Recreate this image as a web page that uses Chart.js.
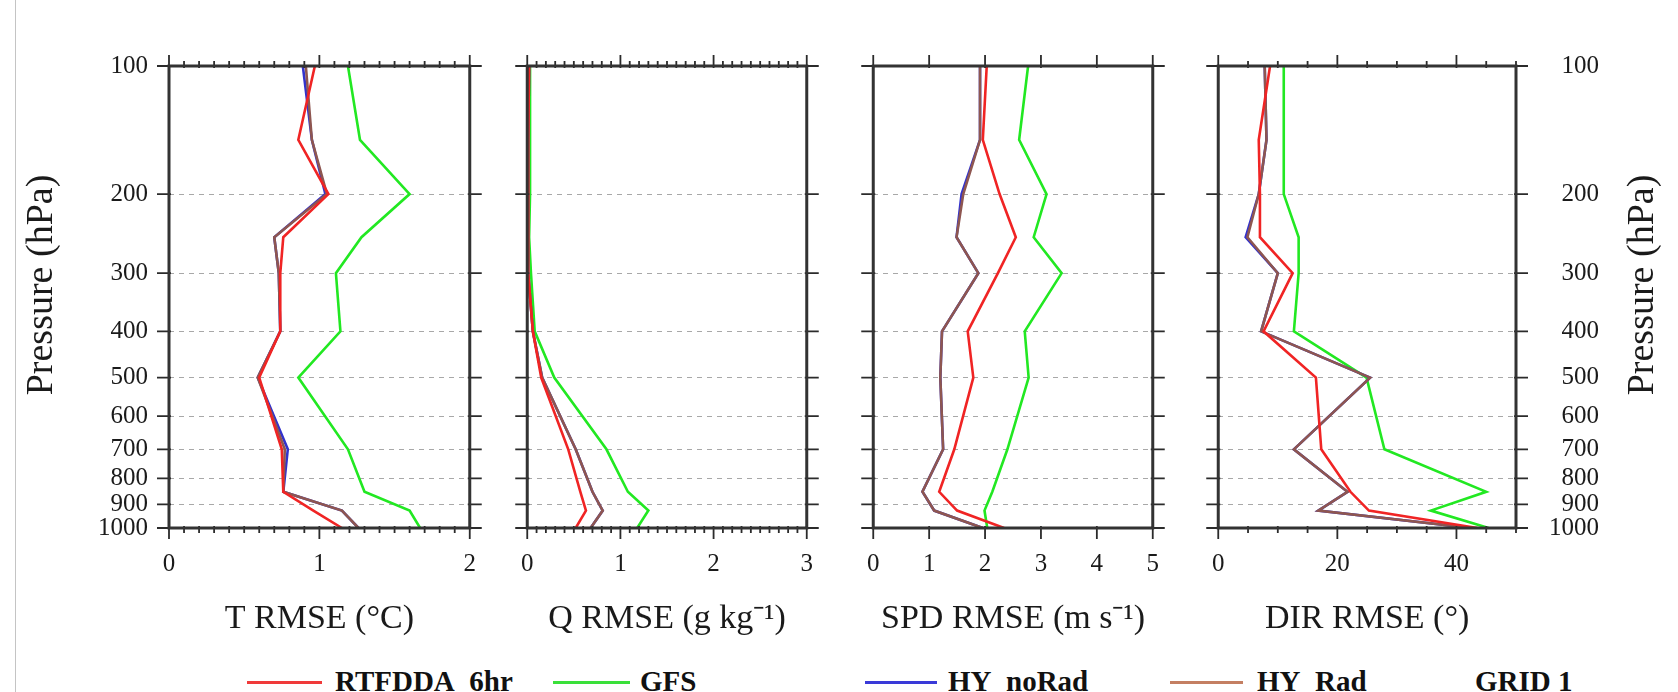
<!DOCTYPE html>
<html>
<head>
<meta charset="utf-8">
<title>RMSE profiles</title>
<script src="https://cdn.jsdelivr.net/npm/chart.js"></script>
<style>
  html, body { margin: 0; padding: 0; background: #fff; }
  #page { position: relative; width: 1678px; height: 692px; overflow: hidden; background: #fff; }
  #page canvas { position: absolute; top: 0; }
  .edge { position: absolute; left: 15px; top: 0; width: 1px; height: 692px; background: #c4c4c4; }
  .swatch { position: absolute; top: 681px; height: 3px; }
  .key { position: absolute; top: 667px; font: bold 29px/1 "Liberation Serif", "Times New Roman", serif; color: #111; white-space: nowrap; }
</style>
</head>
<body>
<div id="page">
  <div class="edge"></div>
  <canvas id="c1" width="500" height="640" style="left:0px"></canvas>
  <canvas id="c2" width="340" height="640" style="left:497px"></canvas>
  <canvas id="c3" width="340" height="640" style="left:843px"></canvas>
  <canvas id="c4" width="490" height="640" style="left:1188px"></canvas>
  <div id="legend"></div>
</div>
<script>
// pressure levels of the profiles (hPa) and axis labels
const levels = [100, 150, 200, 250, 300, 400, 500, 700, 850, 925, 1000];
const pressureTicks = [100, 200, 300, 400, 500, 600, 700, 800, 900, 1000];
const seriesNames = ["RTFDDA_6hr", "GFS", "HY_noRad", "HY_Rad"];

// T RMSE (C)
const tRtfdda = [0.97, 0.86, 1.06, 0.76, 0.74, 0.74, 0.60, 0.75, 0.76, 0.96, 1.15];
const tGfs    = [1.19, 1.27, 1.60, 1.28, 1.11, 1.14, 0.86, 1.19, 1.30, 1.60, 1.67];
const tNoRad  = [0.89, 0.95, 1.04, 0.70, 0.73, 0.74, 0.59, 0.79, 0.76, 1.15, 1.26];
const tRad    = [0.91, 0.95, 1.05, 0.70, 0.73, 0.74, 0.59, 0.77, 0.76, 1.15, 1.26];

// Q RMSE (g/kg)
const qRtfdda = [0.02, 0.01, 0.01, 0.01, 0.01, 0.06, 0.15, 0.44, 0.57, 0.63, 0.52];
const qGfs    = [0.03, 0.03, 0.03, 0.02, 0.04, 0.08, 0.29, 0.85, 1.08, 1.30, 1.18];
const qNoRad  = [0.02, 0.01, 0.01, 0.01, 0.01, 0.06, 0.16, 0.52, 0.70, 0.81, 0.68];
const qRad    = [0.02, 0.01, 0.01, 0.01, 0.01, 0.06, 0.16, 0.52, 0.70, 0.81, 0.68];

// SPD RMSE (m/s)
const sRtfdda = [2.03, 1.96, 2.26, 2.55, 2.23, 1.69, 1.79, 1.45, 1.18, 1.50, 2.34];
const sGfs    = [2.77, 2.61, 3.10, 2.87, 3.37, 2.71, 2.78, 2.40, 2.13, 1.99, 2.04];
const sNoRad  = [1.91, 1.91, 1.58, 1.49, 1.88, 1.23, 1.20, 1.25, 0.88, 1.09, 1.96];
const sRad    = [1.91, 1.91, 1.61, 1.49, 1.88, 1.23, 1.20, 1.25, 0.88, 1.09, 1.96];

// DIR RMSE (deg)
const dRtfdda = [8.7, 6.8, 7.0, 7.0, 12.5, 7.6, 16.4, 17.3, 22.2, 25.3, 43.5];
const dGfs    = [11.0, 11.0, 11.0, 13.5, 13.5, 12.7, 24.9, 27.9, 45.0, 35.7, 45.4];
const dNoRad  = [7.8, 8.1, 6.8, 4.6, 10.0, 7.2, 25.5, 12.7, 21.7, 16.8, 42.5];
const dRad    = [7.8, 8.1, 6.8, 4.9, 10.0, 7.2, 25.5, 12.7, 21.7, 16.8, 42.5];

const tTicks = [0, 1, 2];
const qTicks = [0, 1, 2, 3];
const spdTicks = [0, 1, 2, 3, 4, 5];
const dirTicks = [0, 20, 40];

const lineColors = ["#f02424", "#22e822", "#3232cc", "#8e5650"];
const keyColors = ["#f03a3a", "#3ae03a", "#3a3ad8", "#c47f62"];
const SERIF = "'Liberation Serif', 'Times New Roman', serif";

Chart.defaults.font.family = SERIF;
Chart.defaults.color = "#1a1a1a";

// vertical pressure axis, spaced like the original (p^0.1)
const K = 0.1;
class PressureScale extends Chart.LinearScale {
  static id = "pressure";
  static defaults = Chart.LinearScale.defaults;
  getPixelForValue(value) {
    const a = Math.pow(this.min, K), b = Math.pow(this.max, K);
    return this.getPixelForDecimal((Math.pow(value, K) - a) / (b - a));
  }
  getValueForPixel(pixel) {
    const a = Math.pow(this.min, K), b = Math.pow(this.max, K);
    return Math.pow(a + this.getDecimalForPixel(pixel) * (b - a), 1 / K);
  }
}
Chart.register(PressureScale);

// frame box and tick marks on all four sides
const framePlugin = {
  id: "frame",
  afterDraw(chart, args, opts) {
    const { ctx, chartArea: a } = chart;
    const x = chart.scales.x, y = chart.scales.y;
    ctx.save();
    ctx.strokeStyle = "#2b2b2b";
    ctx.lineWidth = 1.8;
    ctx.beginPath();
    pressureTicks.forEach((p) => {
      const py = y.getPixelForValue(p);
      ctx.moveTo(a.left - 12, py);
      ctx.lineTo(a.left + 2, py);
      ctx.moveTo(a.right - 2, py);
      ctx.lineTo(a.right + 12, py);
    });
    const n = Math.round(x.max / opts.step);
    for (let i = 0; i <= n; i++) {
      const v = i * opts.step;
      const px = x.getPixelForValue(v);
      const major = opts.major.some((m) => Math.abs(m - v) < 1e-6);
      const len = major ? 11 : 5;
      ctx.moveTo(px, a.top - len);
      ctx.lineTo(px, a.top + 2);
      ctx.moveTo(px, a.bottom - 2);
      ctx.lineTo(px, a.bottom + len);
    }
    ctx.stroke();
    ctx.strokeStyle = "#333";
    ctx.lineWidth = 3;
    ctx.strokeRect(a.left, a.top, a.right - a.left, a.bottom - a.top);
    ctx.restore();
  },
};

// rotated "Pressure (hPa)" label
const pressureTitle = {
  id: "pressureTitle",
  afterDraw(chart, args, opts) {
    if (!opts || opts.x === undefined) return;
    const ctx = chart.ctx;
    ctx.save();
    ctx.translate(opts.x, opts.y);
    ctx.rotate(-Math.PI / 2);
    ctx.font = "38px " + SERIF;
    ctx.fillStyle = "#1a1a1a";
    ctx.textAlign = "center";
    ctx.textBaseline = "middle";
    ctx.fillText("Pressure (hPa)", 0, 0);
    ctx.restore();
  },
};

function toPoints(vals) {
  return vals.map((v, i) => ({ x: v, y: levels[i] }));
}

function yAxis(showLabels, width, position) {
  return {
    type: "pressure",
    position: position,
    min: 100,
    max: 1000,
    reverse: true,
    afterBuildTicks: (scale) => {
      scale.ticks = pressureTicks.map((v) => ({ value: v }));
    },
    afterFit: (scale) => {
      scale.width = width;
    },
    border: { display: false, dash: [5, 5] },
    grid: {
      display: position === "left",
      drawTicks: false,
      color: (c) =>
        c.tick && (c.tick.value === 100 || c.tick.value === 1000) ? "rgba(0,0,0,0)" : "#a8a8a8",
      lineWidth: 1,
    },
    ticks: {
      display: showLabels,
      padding: 21,
      crossAlign: position === "right" ? "far" : "near",
      font: { size: 25, lineHeight: 1 },
      callback: (v) => String(v),
    },
  };
}

function makePanel(id, p) {
  const order = [0, 3, 2, 1]; // red on top, green at the back
  const scales = {
    x: {
      type: "linear",
      min: 0,
      max: p.max,
      afterBuildTicks: (scale) => {
        scale.ticks = p.ticks.map((v) => ({ value: v }));
      },
      afterFit: (scale) => {
        scale.height = 112;
      },
      border: { display: false },
      grid: { display: false, drawTicks: false },
      ticks: {
        padding: 24,
        maxRotation: 0,
        font: { size: 25, lineHeight: 1 },
        callback: (v) => String(v),
      },
      title: {
        display: true,
        text: p.title,
        font: { size: 34, lineHeight: 1 },
        padding: { top: 0, bottom: 4 },
      },
    },
    y: yAxis(p.leftLabels, p.leftLabels ? 169 : 0, "left"),
  };
  if (p.rightLabels) scales.y2 = yAxis(true, 83, "right");

  return new Chart(document.getElementById(id), {
    type: "line",
    data: {
      datasets: order.map((k) => ({
        label: seriesNames[k],
        data: toPoints(p.series[k]),
        borderColor: lineColors[k],
        borderWidth: 2.6,
        pointRadius: 0,
        tension: 0,
        fill: false,
      })),
    },
    options: {
      responsive: false,
      maintainAspectRatio: false,
      animation: false,
      events: [],
      layout: { padding: { top: 66, bottom: 0, left: p.padLeft, right: p.padRight } },
      scales: scales,
      plugins: {
        legend: { display: false },
        tooltip: { enabled: false },
        frame: { step: p.step, major: p.ticks },
        pressureTitle: p.titlePos || {},
      },
    },
    plugins: [framePlugin, pressureTitle],
  });
}

makePanel("c1", {
  title: "T RMSE (\u00b0C)", max: 2, step: 0.1, ticks: tTicks,
  series: [tRtfdda, tGfs, tNoRad, tRad],
  padLeft: 0, padRight: 22, leftLabels: true, titlePos: { x: 42, y: 285 },
});
makePanel("c2", {
  title: "Q RMSE (g kg\u207b\u00b9)", max: 3, step: 0.1, ticks: qTicks,
  series: [qRtfdda, qGfs, qNoRad, qRad],
  padLeft: 20, padRight: 13, leftLabels: false,
});
makePanel("c3", {
  title: "SPD RMSE (m s\u207b\u00b9)", max: 5, step: 1, ticks: spdTicks,
  series: [sRtfdda, sGfs, sNoRad, sRad],
  padLeft: 20, padRight: 13, leftLabels: false,
});
makePanel("c4", {
  title: "DIR RMSE (\u00b0)", max: 50, step: 5, ticks: dirTicks,
  series: [dRtfdda, dGfs, dNoRad, dRad],
  padLeft: 20, padRight: 79, leftLabels: false, rightLabels: true,
  titlePos: { x: 455, y: 285 },
});

// legend row along the bottom edge
const swatchLeft = [247, 553, 865, 1170];
const swatchWidth = [75, 77, 72, 73];
const keyLeft = [335, 640, 948, 1257];
const legend = document.getElementById("legend");
seriesNames.forEach((name, i) => {
  const sw = document.createElement("div");
  sw.className = "swatch";
  sw.style.left = swatchLeft[i] + "px";
  sw.style.width = swatchWidth[i] + "px";
  sw.style.background = keyColors[i];
  legend.appendChild(sw);
  const t = document.createElement("div");
  t.className = "key";
  t.style.left = keyLeft[i] + "px";
  t.textContent = name;
  legend.appendChild(t);
});
const grid = document.createElement("div");
grid.className = "key";
grid.style.left = "1475px";
grid.textContent = "GRID 1";
legend.appendChild(grid);
</script>
</body>
</html>
